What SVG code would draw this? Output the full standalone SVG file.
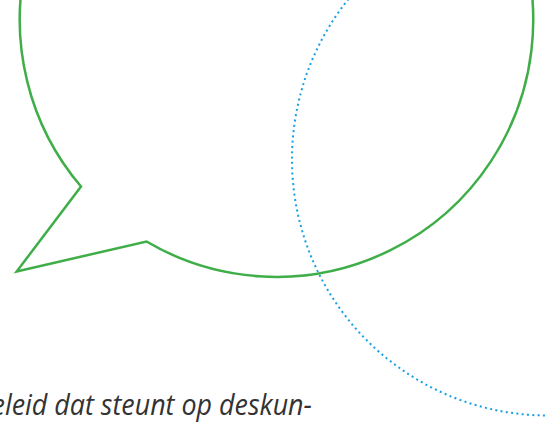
<svg xmlns="http://www.w3.org/2000/svg" width="548" height="423" viewBox="0 0 548 423">
  <style>
    .bubble { fill: none; stroke: #3fae49; stroke-width: 2.5; stroke-linejoin: miter; }
    .dotted { fill: none; stroke: #16a0e3; stroke-width: 2; stroke-dasharray: 2 3.33; }
    .body { font-family: "Open Sans", "Noto Sans", "Liberation Sans", sans-serif; font-style: italic; font-size: 28.5px; fill: #333333; }
  </style>
  <rect width="548" height="423" fill="#ffffff"/>
  <g id="dotted-circle">
    <circle class="dotted" cx="548" cy="159.5" r="256"/>
  </g>
  <g id="speech-bubble">
    <path class="bubble" d="M81,186.5 A256.7,256.7 0 1 1 146.5,241.5 L16.7,271.5 Z"/>
  </g>
  <g id="caption">
    <text class="body" x="-24" y="415" textLength="336" lengthAdjust="spacingAndGlyphs">beleid dat steunt op deskun-</text>
  </g>
</svg>
